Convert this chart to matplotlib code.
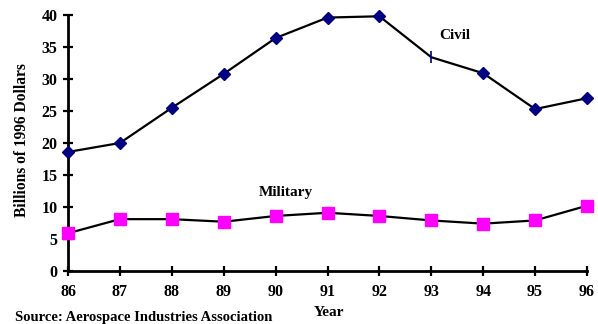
import numpy as np
import matplotlib
matplotlib.use("Agg")
import matplotlib.pyplot as plt

# data
years = np.arange(86, 97)
civil = [18.6, 20.0, 25.5, 30.8, 36.4, 39.6, 39.8, 33.4, 30.9, 25.3, 27.0]
military = [5.9, 8.1, 8.1, 7.7, 8.6, 9.1, 8.6, 7.9, 7.4, 7.9, 10.2]
yticks = np.arange(0, 41, 5)

plt.rcParams['font.family'] = ['Liberation Serif', 'DejaVu Serif']
plt.rcParams['font.weight'] = 'bold'

fig = plt.figure(figsize=(5.98, 3.24), dpi=100)
ax = fig.add_axes([68/598, 1-271/324, (587-68)/598, (271-15)/324])

# civil: diamonds, except the 93 point which shows as a small tick
civ_marks = [i for i in range(len(years)) if years[i] != 93]
ax.plot(years, civil, '-', color='black', lw=1.6, zorder=2, clip_on=False)
ax.plot(years[civ_marks], np.array(civil)[civ_marks], 'D', color='#000080',
        ms=6.5, zorder=3, clip_on=False)
i93 = list(years).index(93)
ax.plot([years[i93]], [civil[i93]], '|', color='#000080', ms=8, mew=1.2, zorder=3)

ax.plot(years, military, '-', color='black', lw=1.6, zorder=2, clip_on=False)
ax.plot(years, military, 's', color='#ff00ff', ms=8, zorder=3, clip_on=False)

ax.text(93.45, 36.8, 'Civil', fontsize=11, fontweight='bold', ha='center', va='center')
ax.text(90.2, 12.3, 'Military', fontsize=11, fontweight='bold', ha='center', va='center')

ax.set_xlim(86, 96)
ax.set_ylim(0, 40)
ax.set_xticks(years)
ax.set_xticklabels([str(y) for y in years])
ax.set_yticks(yticks)
for s in ['top', 'right']:
    ax.spines[s].set_visible(False)
for s in ['left', 'bottom']:
    ax.spines[s].set_linewidth(2)
ax.tick_params(direction='inout', length=7, width=1.6, labelsize=11.5, pad=4)
ax.tick_params(axis='x', pad=6)
for lab in ax.get_xticklabels() + ax.get_yticklabels():
    lab.set_fontweight('bold')

fig.text(329/598, 1-313/324, 'Year', fontsize=11, fontweight='bold', ha='center', va='center')
fig.text(22/598, 1-140/324, 'Billions of 1996 Dollars', fontsize=11.2, fontweight='bold',
         rotation=90, ha='center', va='center')
fig.text(15/598, 0.5/324, 'Source: Aerospace Industries Association', fontsize=10.5,
         fontweight='bold', ha='left', va='bottom')

fig.savefig('out.png', dpi=100)
